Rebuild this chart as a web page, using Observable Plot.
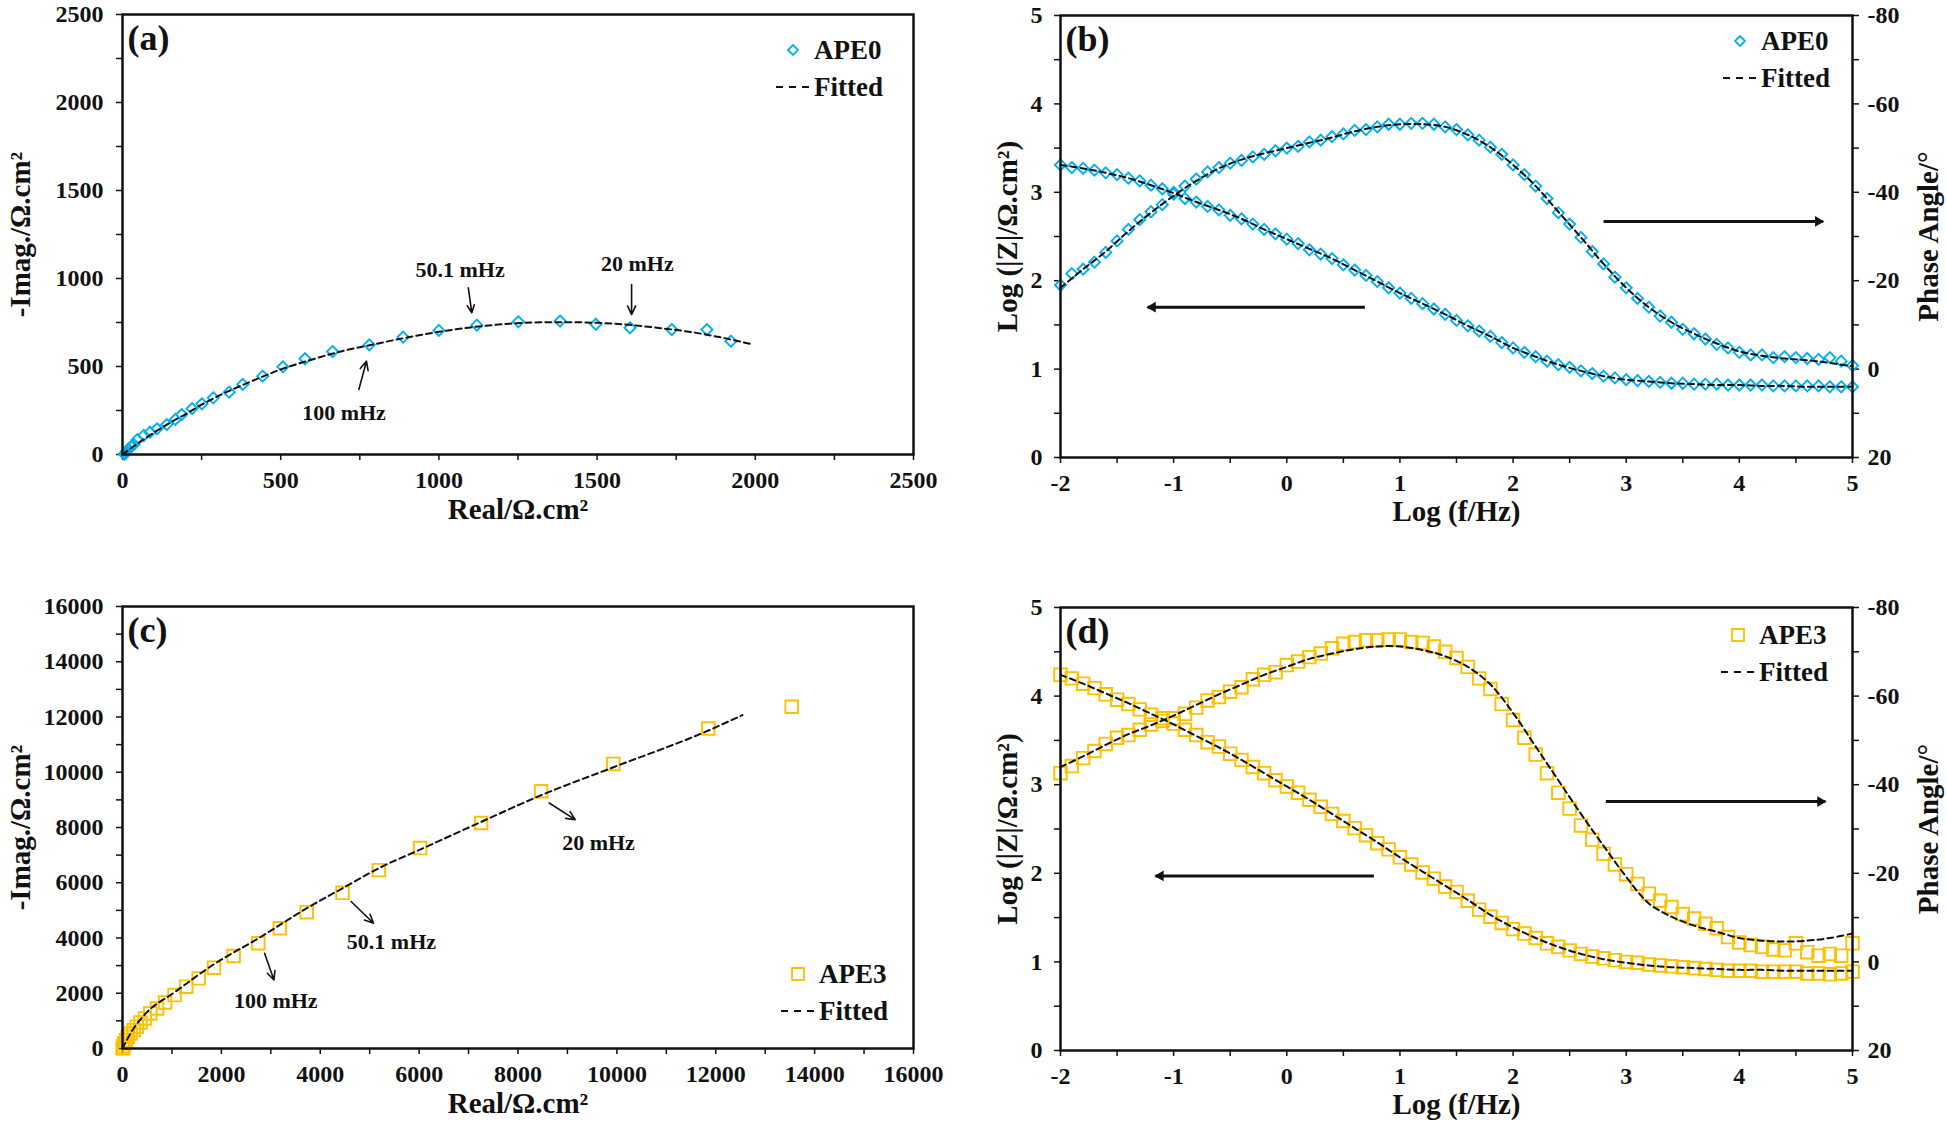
<!DOCTYPE html>
<html><head><meta charset="utf-8">
<script src="https://cdn.jsdelivr.net/npm/d3@7"></script>
<script src="https://cdn.jsdelivr.net/npm/@observablehq/plot@0.6"></script>
<style>
html,body{margin:0;padding:0;background:#fff;}
#wrap{position:relative;width:1946px;height:1128px;overflow:hidden;background:#fff;}
#wrap svg{position:absolute;overflow:visible;}
</style></head><body><div id="wrap"></div>
<script>
// ---------- Panel (a): Nyquist, APE0 ----------
const realA = [6, 7, 9, 13, 19, 27, 36, 47, 67, 87, 109, 140, 167, 187, 220, 251, 287, 337, 380, 443, 507, 577, 664, 780, 887, 1000, 1120, 1251, 1383, 1496, 1604, 1736, 1847, 1923];
const imagA = [1, 4, 9, 18, 30, 45, 57, 85, 108, 127, 146, 170, 199, 227, 261, 288, 322, 354, 398, 445, 498, 544, 585, 623, 667, 705, 735, 754, 758, 740, 720, 710, 710, 644];
const fitRealA = [0, 50, 100, 150, 200, 250, 300, 400, 500, 600, 700, 800, 900, 1000, 1100, 1200, 1300, 1400, 1500, 1600, 1700, 1800, 1900, 1985];
const fitImagA = [0, 65, 125, 180, 230, 283, 330, 410, 483, 540, 590, 628, 665, 697, 722, 740, 750, 752, 748, 737, 718, 695, 662, 628];
const labelsA = ["50.1 mHz", "20 mHz", "100 mHz"];
const labelXA = [1067, 1627, 700];
const labelYA = [1051, 1080, 237];
const arrowFromXA = [1093, 1609, 747], arrowFromYA = [947, 966, 369];
const arrowToXA = [1104, 1609, 771], arrowToYA = [805, 795, 530];

// ---------- Panel (c): Nyquist, APE3 ----------
const realC = [5, 10, 18, 36, 73, 109, 163, 227, 290, 363, 453, 562, 698, 861, 1052, 1287, 1541, 1850, 2248, 2747, 3182, 3726, 4451, 5186, 6020, 7253, 8468, 9928, 11850, 13536];
const imagC = [5, 15, 85, 181, 302, 423, 544, 665, 786, 943, 1088, 1270, 1451, 1669, 1935, 2237, 2539, 2926, 3349, 3809, 4353, 4934, 5635, 6457, 7255, 8162, 9311, 10302, 11584, 12370];
const fitRealC = [0, 180, 450, 1050, 1850, 2750, 3730, 4450, 5190, 6020, 7250, 8470, 9930, 11850, 12540];
const fitImagC = [0, 600, 1230, 2030, 3050, 3990, 5080, 5800, 6530, 7200, 8200, 9170, 10180, 11510, 12070];
const labelsC = ["20 mHz", "50.1 mHz", "100 mHz"];
const labelXC = [9628, 5440, 3100];
const labelYC = [7437, 3869, 1717];
const arrowFromXC = [8631, 4624, 2874], arrowFromYC = [8888, 5320, 3446];
const arrowToXC = [9157, 5077, 3064], arrowToYC = [8283, 4534, 2479];

// ---------- Bode panels (b) APE0 and (d) APE3 ----------
const logF = [-2.0,-1.9,-1.8,-1.7,-1.6,-1.5,-1.4,-1.3,-1.2,-1.1,-1.0,-0.9,-0.8,-0.7,-0.6,-0.5,-0.4,-0.3,-0.2,-0.1,0.0,0.1,0.2,0.3,0.4,0.5,0.6,0.7,0.8,0.9,1.0,1.1,1.2,1.3,1.4,1.5,1.6,1.7,1.8,1.9,2.0,2.1,2.2,2.3,2.4,2.5,2.6,2.7,2.8,2.9,3.0,3.1,3.2,3.3,3.4,3.5,3.6,3.7,3.8,3.9,4.0,4.1,4.2,4.3,4.4,4.5,4.6,4.7,4.8,4.9,5.0];
const logZB = [3.31,3.28,3.27,3.25,3.22,3.20,3.16,3.13,3.08,3.04,3.00, 2.93,2.89,2.84,2.80,2.74,2.70,2.64,2.58,2.53,2.47, 2.42,2.35,2.30,2.25,2.18,2.12,2.06,1.99,1.92,1.86, 1.80,1.74,1.68,1.62,1.55,1.49,1.43,1.37,1.30,1.24, 1.19,1.14,1.09,1.05,1.02,0.98,0.95,0.92,0.90,0.88, 0.87,0.86,0.85,0.84,0.84,0.83,0.83,0.83,0.82,0.82, 0.82,0.82,0.81,0.81,0.81,0.81,0.81,0.80,0.80,0.80];
const phaseB = [-19.0,-21.6,-22.6,-24.2,-26.4,-29.0,-31.6,-33.8,-35.6,-37.2,-39.6, -41.4,-43.0,-44.6,-45.6,-46.6,-47.2,-48.0,-48.6,-49.4,-50.0, -50.4,-51.4,-51.8,-52.6,-53.2,-54.0,-54.2,-54.8,-55.4,-55.4, -55.6,-55.6,-55.4,-54.8,-54.2,-53.0,-51.8,-50.2,-48.6,-46.2, -44.0,-41.4,-38.6,-35.4,-32.8,-29.8,-26.6,-23.8,-20.8,-18.4, -16.0,-14.0,-12.0,-10.6,-9.0,-8.0,-6.8,-5.6,-4.8,-3.8, -3.2,-3.2,-2.6,-2.8,-2.6,-2.4,-2.2,-2.6,-1.8,-0.8];
const logZD = [4.24,4.20,4.14,4.09,4.02,3.96,3.91,3.85,3.79,3.75,3.69, 3.62,3.56,3.48,3.43,3.35,3.28,3.20,3.13,3.05,2.98, 2.91,2.83,2.75,2.67,2.59,2.51,2.43,2.34,2.27,2.18, 2.10,2.01,1.94,1.85,1.79,1.69,1.59,1.51,1.44,1.37, 1.32,1.27,1.21,1.17,1.13,1.09,1.06,1.04,1.02,1.00, 0.99,0.97,0.96,0.95,0.94,0.93,0.92,0.91,0.90,0.90, 0.90,0.89,0.89,0.89,0.89,0.87,0.87,0.86,0.87,0.89];
const phaseD = [-42.6,-44.2,-46.0,-47.6,-49.2,-50.6,-51.2,-52.4,-53.6,-54.4,-55.0, -56.0,-57.4,-59.0,-59.8,-61.0,-62.0,-63.8,-64.8,-65.4,-67.0, -67.8,-68.8,-69.6,-70.8,-71.8,-72.2,-72.6,-72.6,-72.8,-72.8, -72.2,-72.0,-71.2,-70.0,-68.6,-66.6,-64.0,-61.6,-58.2,-54.6, -50.6,-46.8,-42.6,-38.2,-34.6,-30.8,-27.6,-24.4,-22.0,-19.8, -17.6,-15.4,-13.8,-12.4,-10.8,-9.8,-8.6,-7.6,-5.6,-4.4, -3.8,-3.4,-2.8,-2.6,-4.2,-2.2,-1.4,-1.8,-1.4,-4.2];

const logFfit = [-2,-1.8,-1.6,-1.4,-1.2,-1,-0.8,-0.6,-0.4,-0.2,0,0.2,0.4,0.6,0.8,1,1.2,1.4,1.6,1.8,2,2.2,2.4,2.6,2.8,3,3.2,3.4,3.6,3.8,4,4.2,4.4,4.6,4.8,5];
const fitLogZB = [3.31,3.27,3.22,3.16,3.08,2.99,2.89,2.80,2.70,2.58,2.47,2.36,2.25,2.12,1.99,1.86,1.74,1.62,1.49,1.37,1.24,1.14,1.05,0.98,0.92,0.88,0.86,0.84,0.83,0.82,0.82,0.81,0.81,0.80,0.80,0.80];
const fitPhaseB = [-18.4,-22.6,-26.6,-31.2,-35.4,-39.2,-42.6,-45.4,-47.4,-48.8,-50.0,-51.2,-52.4,-53.8,-54.8,-55.4,-55.4,-54.8,-53.0,-50.2,-46.2,-41.4,-35.6,-29.8,-23.8,-18.4,-14.0,-10.6,-8.0,-5.8,-4.0,-3.0,-2.4,-2.0,-1.4,-0.6];
const fitLogZD = [4.24,4.14,4.03,3.92,3.80,3.68,3.55,3.42,3.28,3.13,2.98,2.83,2.67,2.51,2.35,2.18,2.02,1.86,1.70,1.53,1.39,1.27,1.17,1.09,1.03,0.99,0.96,0.94,0.93,0.92,0.91,0.91,0.90,0.90,0.90,0.90];
const fitPhaseD = [-44.0,-46.4,-49.0,-51.4,-53.4,-55.6,-58.0,-60.4,-62.6,-64.8,-66.6,-68.4,-69.6,-70.6,-71.2,-71.2,-70.4,-69.0,-66.6,-62.6,-56.2,-48.6,-41.0,-33.4,-26.2,-19.2,-13.2,-10.2,-8.2,-6.8,-5.4,-4.8,-4.6,-4.8,-5.4,-6.4];

// direction arrows in Bode plots (log f, log|Z| units)
const bodeArrowB = {leftFrom: 0.69, leftTo: -1.23, leftY: 1.70, rightFrom: 2.80, rightTo: 4.74, rightY: 2.67};
const bodeArrowD = {leftFrom: 0.77, leftTo: -1.16, leftY: 1.97, rightFrom: 2.82, rightTo: 4.76, rightY: 2.81};

// tick values
const ticksA = d3.range(0, 2501, 250);
const ticksC = d3.range(0, 16001, 1000);
const ticksLogF = [-2,-1.5,-1,-0.5,0,0.5,1,1.5,2,2.5,3,3.5,4,4.5,5];
const ticksLogZ = [0,0.5,1,1.5,2,2.5,3,3.5,4,4.5,5];

// ---------- styling ----------
const FONT = "'Liberation Serif','Times New Roman',Times,serif";
const BLUE = "#00B0F0", GOLD = "#FFC000", INK = "#111";
const W = 973, H = 564;

// phase (degrees) -> shared left scale units (20° at 0, -80° at 5)
const phaseToY = p => (20 - p) / 20;

function legendMark(sx, sy, shape, color, r, name) {
  return () => {
    const g = d3.create("svg:g")
      .attr("font-family", FONT).attr("font-weight", "bold").attr("font-size", 27)
      .attr("fill", INK).attr("text-anchor", "start");
    const d = shape === "diamond"
      ? `M0,${-r}L${r},0L0,${r}L${-r},0Z`
      : `M${-r},${-r}H${r}V${r}H${-r}Z`;
    g.append("path").attr("d", d).attr("transform", `translate(${sx},${sy})`)
      .attr("fill", "none").attr("stroke", color).attr("stroke-width", 1.8);
    g.append("text").attr("x", sx + 21).attr("y", sy).attr("dy", "0.35em").attr("text-anchor", "start").text(name);
    g.append("line").attr("x1", sx - 17).attr("x2", sx + 17).attr("y1", sy + 37).attr("y2", sy + 37)
      .attr("stroke", INK).attr("stroke-width", 2).attr("stroke-dasharray", "7,6");
    g.append("text").attr("x", sx + 21).attr("y", sy + 37).attr("dy", "0.35em").attr("text-anchor", "start").text("Fitted");
    return g.node();
  };
}

const baseStyle = {fontFamily: FONT, fontSize: "24px", fontWeight: "bold", color: INK, background: "transparent", overflow: "visible"};

function nyquist({tag, real, imag, fitRe, fitIm, labels, lx, ly, ax1, ay1, ax2, ay2, max, ticks, labelStep, margins, symbol, color, r, name, legendPos, legendShape, legendR}) {
  const pts = real.map((x, i) => ({x, y: imag[i]}));
  const fit = fitRe.map((x, i) => ({x, y: fitIm[i]}));
  const ann = labels.map((t, i) => ({t, x: lx[i], y: ly[i]}));
  const arr = ax1.map((x1, i) => ({x1, y1: ay1[i], x2: ax2[i], y2: ay2[i]}));
  return Plot.plot({
    width: W, height: H, ...margins,
    x: {domain: [0, max]}, y: {domain: [0, max]},
    style: baseStyle,
    marks: [
      Plot.axisX({ticks, tickSize: 6, tickPadding: 10, tickFormat: d => d % labelStep === 0 ? String(d) : "", label: null, strokeWidth: 1.5, fontSize: 24}),
      Plot.axisY({ticks, tickSize: 6, tickPadding: 13, tickFormat: d => d % labelStep === 0 ? String(d) : "", label: null, strokeWidth: 1.5, fontSize: 24}),
      Plot.dot(pts, {x: "x", y: "y", symbol, r, stroke: color, strokeWidth: 1.9, fill: "none"}),
      Plot.line(fit, {x: "x", y: "y", curve: "monotone-x", stroke: INK, strokeWidth: 2, strokeDasharray: "6,4"}),
      Plot.arrow(arr, {x1: "x1", y1: "y1", x2: "x2", y2: "y2", stroke: INK, strokeWidth: 1.6, headLength: 9, headAngle: 50}),
      Plot.text(ann, {x: "x", y: "y", text: "t", fontSize: 22, fontWeight: "bold", fill: INK}),
      Plot.frame({stroke: INK, strokeWidth: 2.5}),
      Plot.text([tag], {text: d => d, frameAnchor: "top-left", textAnchor: "start", lineAnchor: "top", dx: 5, dy: 10, fontSize: 36, fontWeight: "bold", fill: INK}),
      Plot.text(["Real/Ω.cm²"], {text: d => d, frameAnchor: "bottom", lineAnchor: "middle", dy: 55, fontSize: 29, fontWeight: "bold", fill: INK}),
      Plot.text(["-Imag./Ω.cm²"], {text: d => d, frameAnchor: "left", textAnchor: "middle", lineAnchor: "middle", dx: -102, rotate: -90, fontSize: 29, fontWeight: "bold", fill: INK}),
      legendMark(legendPos[0], legendPos[1], legendShape, color, legendR, name)
    ]
  });
}

function bode({tag, logZ, phase, fitZ, fitP, arrows, margins, symbol, color, r, name, legendPos, legendShape, legendR}) {
  const zPts = logF.map((x, i) => ({x, y: logZ[i]}));
  const pPts = logF.map((x, i) => ({x, y: phaseToY(phase[i])}));
  const zFit = logFfit.map((x, i) => ({x, y: fitZ[i]}));
  const pFit = logFfit.map((x, i) => ({x, y: phaseToY(fitP[i])}));
  const shafts = [
    {x1: arrows.leftFrom, x2: arrows.leftTo, y: arrows.leftY},
    {x1: arrows.rightFrom, x2: arrows.rightTo, y: arrows.rightY}
  ];
  const headsRight = [{x: arrows.rightTo, y: arrows.rightY}];
  const headsLeft = [{x: arrows.leftTo, y: arrows.leftY}];
  return Plot.plot({
    width: W, height: H, ...margins,
    x: {domain: [-2, 5]}, y: {domain: [0, 5]},
    style: baseStyle,
    marks: [
      Plot.axisX({ticks: ticksLogF, tickSize: 6, tickPadding: 10, tickFormat: d => Number.isInteger(d) ? String(d) : "", label: null, strokeWidth: 1.5, fontSize: 24}),
      Plot.axisY({anchor: "left", ticks: ticksLogZ, tickSize: 6, tickPadding: 12, tickFormat: d => Number.isInteger(d) ? String(d) : "", label: null, strokeWidth: 1.5, fontSize: 24}),
      Plot.axisY({anchor: "right", ticks: ticksLogZ, tickSize: 6, tickPadding: 9, tickFormat: d => Number.isInteger(d) ? String(20 - 20 * d) : "", label: null, strokeWidth: 1.5, fontSize: 24}),
      Plot.dot(zPts, {x: "x", y: "y", symbol, r, stroke: color, strokeWidth: 1.9, fill: "none"}),
      Plot.dot(pPts, {x: "x", y: "y", symbol, r, stroke: color, strokeWidth: 1.9, fill: "none"}),
      Plot.line(zFit, {x: "x", y: "y", curve: "catmull-rom", stroke: INK, strokeWidth: 2, strokeDasharray: "6,4"}),
      Plot.line(pFit, {x: "x", y: "y", curve: "catmull-rom", stroke: INK, strokeWidth: 2, strokeDasharray: "6,4"}),
      Plot.link(shafts, {x1: "x1", x2: "x2", y1: "y", y2: "y", stroke: INK, strokeWidth: 3}),
      Plot.dot(headsRight, {x: "x", y: "y", symbol: "triangle", rotate: 90, r: 4, fill: INK, stroke: "none", dx: -5}),
      Plot.dot(headsLeft, {x: "x", y: "y", symbol: "triangle", rotate: -90, r: 4, fill: INK, stroke: "none", dx: 5}),
      Plot.frame({stroke: INK, strokeWidth: 2.5}),
      Plot.text([tag], {text: d => d, frameAnchor: "top-left", textAnchor: "start", lineAnchor: "top", dx: 5, dy: 10, fontSize: 36, fontWeight: "bold", fill: INK}),
      Plot.text(["Log (f/Hz)"], {text: d => d, frameAnchor: "bottom", lineAnchor: "middle", dy: 54, fontSize: 29, fontWeight: "bold", fill: INK}),
      Plot.text(["Log (|Z|/Ω.cm²)"], {text: d => d, frameAnchor: "left", textAnchor: "middle", lineAnchor: "middle", dx: -53, rotate: -90, fontSize: 29, fontWeight: "bold", fill: INK}),
      Plot.text(["Phase Angle/°"], {text: d => d, frameAnchor: "right", textAnchor: "middle", lineAnchor: "middle", dx: 76, rotate: -90, fontSize: 29, fontWeight: "bold", fill: INK}),
      legendMark(legendPos[0], legendPos[1], legendShape, color, legendR, name)
    ]
  });
}

const wrap = document.getElementById("wrap");
function place(svg, left, top) {
  svg.style.left = left + "px";
  svg.style.top = top + "px";
  wrap.appendChild(svg);
}

place(nyquist({
  tag: "(a)", real: realA, imag: imagA, fitRe: fitRealA, fitIm: fitImagA,
  labels: labelsA, lx: labelXA, ly: labelYA, ax1: arrowFromXA, ay1: arrowFromYA, ax2: arrowToXA, ay2: arrowToYA,
  max: 2500, ticks: ticksA, labelStep: 500,
  margins: {marginLeft: 122, marginRight: 60, marginTop: 14, marginBottom: 110},
  symbol: "diamond2", color: BLUE, r: 5, name: "APE0", legendPos: [793, 50], legendShape: "diamond", legendR: 5
}), 0, 0);

place(bode({
  tag: "(b)", logZ: logZB, phase: phaseB, fitZ: fitLogZB, fitP: fitPhaseB, arrows: bodeArrowB,
  margins: {marginLeft: 87, marginRight: 94, marginTop: 15, marginBottom: 107},
  symbol: "diamond2", color: BLUE, r: 5, name: "APE0", legendPos: [767, 41], legendShape: "diamond", legendR: 5
}), 973, 0);

place(nyquist({
  tag: "(c)", real: realC, imag: imagC, fitRe: fitRealC, fitIm: fitImagC,
  labels: labelsC, lx: labelXC, ly: labelYC, ax1: arrowFromXC, ay1: arrowFromYC, ax2: arrowToXC, ay2: arrowToYC,
  max: 16000, ticks: ticksC, labelStep: 2000,
  margins: {marginLeft: 122, marginRight: 60, marginTop: 42, marginBottom: 80},
  symbol: "square2", color: GOLD, r: 8, name: "APE3", legendPos: [798, 410], legendShape: "square", legendR: 6
}), 0, 564);

place(bode({
  tag: "(d)", logZ: logZD, phase: phaseD, fitZ: fitLogZD, fitP: fitPhaseD, arrows: bodeArrowD,
  margins: {marginLeft: 87, marginRight: 94, marginTop: 43, marginBottom: 78},
  symbol: "square2", color: GOLD, r: 8, name: "APE3", legendPos: [765, 71], legendShape: "square", legendR: 6
}), 973, 564);
</script>
</body></html>
